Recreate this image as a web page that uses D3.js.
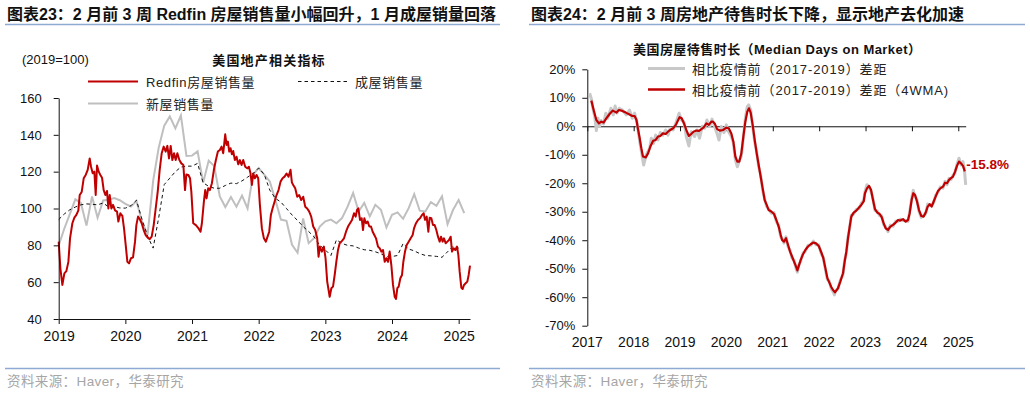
<!DOCTYPE html>
<html>
<head>
<meta charset="utf-8">
<script src="https://cdn.jsdelivr.net/npm/d3@7"></script>
<style>
  body { margin: 0; background: #fff; }
  svg text { font-family: "Liberation Sans", Arial, "Noto Sans CJK SC", sans-serif; }
</style>
</head>
<body>
<svg id="chart" width="1030" height="393"></svg>
<script>
// ---------- left chart data (2019=100) ----------
const leftYearTicks = [2019, 2020, 2021, 2022, 2023, 2024, 2025];
const leftValueTicks = [40, 60, 80, 100, 120, 140, 160];

// Redfin weekly home sales, [decimal year, index]
const redfinSales = [
  [2019.0,82],[2019.025,67.5],[2019.055,58.5],[2019.085,64.8],[2019.115,66],[2019.145,71],[2019.17,83.8],[2019.205,92],
  [2019.235,95],[2019.265,96.5],[2019.295,99],[2019.315,107.3],[2019.345,109],[2019.375,116.4],[2019.405,118.2],[2019.435,121],
  [2019.465,127.2],[2019.485,122.7],[2019.51,119.1],[2019.535,120],[2019.555,107.3],[2019.575,123.3],[2019.6,120],[2019.625,118.2],
  [2019.65,116.7],[2019.675,110],[2019.7,107.3],[2019.725,109.5],[2019.745,100],[2019.765,107.3],[2019.79,100],[2019.815,102],
  [2019.845,99],[2019.875,98.3],[2019.895,92.9],[2019.925,97.4],[2019.955,96],[2019.98,89.2],[2020.005,80.2],[2020.03,71.1],
  [2020.055,70.2],[2020.085,73],[2020.115,73.5],[2020.145,82],[2020.165,91],[2020.19,95.6],[2020.215,94.3],[2020.245,92],
  [2020.275,88.3],[2020.305,85.6],[2020.335,84.2],[2020.365,83.4],[2020.395,84.7],[2020.425,91],[2020.455,100],[2020.485,109],
  [2020.515,121],[2020.545,130],[2020.575,133.6],[2020.605,130.9],[2020.63,134],[2020.655,127.2],[2020.68,134],[2020.705,126.3],
  [2020.73,130],[2020.755,126.3],[2020.78,130],[2020.81,126.3],[2020.84,124.5],[2020.87,123.6],[2020.895,110],[2020.915,118.5],
  [2020.945,118.2],[2020.97,116.4],[2020.99,109],[2021.018,92],[2021.058,91],[2021.098,89.2],[2021.128,87.4],[2021.148,92],
  [2021.178,103.7],[2021.198,110],[2021.218,105.5],[2021.243,111],[2021.268,110],[2021.298,113.7],[2021.328,121],[2021.358,126.3],
  [2021.388,130.9],[2021.418,131.8],[2021.443,133.6],[2021.468,130],[2021.498,140.3],[2021.518,134.5],[2021.538,136.3],[2021.558,130.9],
  [2021.578,132.7],[2021.598,129.4],[2021.618,131.2],[2021.643,126.3],[2021.668,128.1],[2021.693,124],[2021.718,126.3],[2021.743,123.6],
  [2021.768,126.3],[2021.798,122.7],[2021.828,121.8],[2021.853,122.7],[2021.878,119],[2021.898,112.8],[2021.918,119],[2021.943,116.4],
  [2021.968,118.2],[2021.993,116.4],[2022.018,102],[2022.048,89.2],[2022.078,83.8],[2022.108,82],[2022.133,84.7],[2022.158,87.4],
  [2022.183,96.5],[2022.208,100],[2022.238,103.7],[2022.268,107.3],[2022.298,110],[2022.328,114.6],[2022.358,116.4],[2022.388,117.3],
  [2022.418,119],[2022.448,117.3],[2022.478,121],[2022.498,114.2],[2022.518,112.8],[2022.548,111],[2022.578,106.4],[2022.608,107.3],
  [2022.638,104.6],[2022.668,106.4],[2022.698,101],[2022.728,100],[2022.758,98.3],[2022.788,95.6],[2022.818,90.2],[2022.848,88.3],
  [2022.878,83.8],[2022.898,73.8],[2022.918,79.3],[2022.948,76.6],[2022.978,79.3],[2023.003,73],[2023.028,60.3],[2023.065,52.1],
  [2023.09,56.7],[2023.115,57.6],[2023.14,63.9],[2023.165,71.1],[2023.19,77.5],[2023.215,81.1],[2023.25,82.4],[2023.28,83.8],
  [2023.31,87.4],[2023.34,90.2],[2023.37,92],[2023.4,93.8],[2023.43,97.4],[2023.455,95.6],[2023.475,99.2],[2023.495,100.1],
  [2023.52,93.8],[2023.545,94.7],[2023.565,88.3],[2023.585,94.7],[2023.61,92],[2023.635,92.9],[2023.66,90.2],[2023.685,90.2],
  [2023.71,87.4],[2023.735,85.6],[2023.76,83.8],[2023.79,79.3],[2023.815,78.4],[2023.84,76.6],[2023.865,77.5],[2023.89,71.1],
  [2023.915,73],[2023.94,71.1],[2023.965,76.6],[2023.99,69.3],[2024.015,58.5],[2024.04,52.1],[2024.06,50.9],[2024.08,56.7],
  [2024.1,57.6],[2024.125,62.1],[2024.15,63.9],[2024.17,71.1],[2024.195,76.6],[2024.22,80.2],[2024.25,82],[2024.28,83.8],
  [2024.31,85.6],[2024.33,89.2],[2024.36,92],[2024.39,93.8],[2024.42,94.7],[2024.45,96.5],[2024.475,97.4],[2024.495,93.8],
  [2024.52,95.6],[2024.545,87.4],[2024.565,95],[2024.59,94.7],[2024.615,91],[2024.64,91],[2024.665,88.3],[2024.69,84.7],
  [2024.715,82],[2024.735,84.7],[2024.76,82],[2024.78,83.8],[2024.805,81.1],[2024.83,82],[2024.855,82.9],[2024.88,84.7],
  [2024.9,76.6],[2024.925,78.4],[2024.95,77.5],[2024.975,79.3],[2024.995,74.8],[2025.015,65.7],[2025.04,57],[2025.06,56.3],
  [2025.08,58.5],[2025.105,59.4],[2025.13,60.3],[2025.15,63.9],[2025.17,69]
];

// existing home sales, monthly from 2019 (first point at 2019.0)
const existingSales = [
  94, 97, 99.3, 100.8, 102, 102.5, 102.3, 102, 103, 100.8, 101, 100.3,
  100.2, 101.5, 104.5, 94, 85, 78.5, 95, 113, 116.5, 120, 122.5, 123,
  123, 124.5, 114, 112, 111, 111, 112.5, 113.8, 113.5, 115, 117, 119,
  122, 118.5, 110, 105.5, 103.5, 100, 96.5, 93.5, 90.2, 87.5, 84.5, 80,
  77.5, 74.5, 83, 81, 80, 79.7, 78.5, 77.6, 77.3, 76.5, 75.4, 74,
  73.9, 74.5, 81, 78, 77, 75.5, 74.5, 74.3, 74, 73.5, 76.5, 79.5,
  78.5
];

// new home sales, monthly from 2019 (first point at 2019.0)
const newSales = [
  80, 89, 97, 105, 103, 90.7, 106.5, 95, 104.4, 104.8, 105.7, 104.5,
  102.5, 101.1, 104, 93, 85.7, 115, 133, 145, 150, 143.5, 150.5, 128.5,
  128.7, 131, 114, 126, 123, 106.6, 100.8, 106.2, 101, 107, 100, 118.4,
  122, 118.4, 114.7, 104.8, 94, 93.3, 80.3, 76, 94.6, 81.2, 84, 90.2,
  93, 94, 92, 94.8, 101, 108.4, 98.4, 103, 95.7, 102, 99.3, 89.7,
  96.6, 97.9, 94.4, 100.2, 107.8, 98.8, 98.4, 103.5, 101.5, 106.6, 91.5, 99.3,
  104.6, 97.5
];

// ---------- right chart data (% gap vs 2017-2019) ----------
const rightYearTicks = [2017, 2018, 2019, 2020, 2021, 2022, 2023, 2024, 2025];
const rightValueTicks = [-70, -60, -50, -40, -30, -20, -10, 0, 10, 20];

const daysGapRaw = [
  [2017.05,11.6],[2017.09,9.5],[2017.125,6],[2017.16,3.4],[2017.195,-1.5],[2017.23,2.8],[2017.265,0],[2017.3,2],
  [2017.35,0.8],[2017.4,4.6],[2017.44,2.8],[2017.51,6.3],[2017.56,4],[2017.6,7.1],[2017.64,4.6],[2017.69,6.3],
  [2017.76,5.7],[2017.84,4],[2017.91,5.7],[2017.97,2.8],[2018.02,4.6],[2018.07,1.5],[2018.13,-5.4],[2018.185,-10.6],
  [2018.215,-13.6],[2018.27,-10.1],[2018.345,-7.7],[2018.38,-4.2],[2018.43,-6],[2018.475,-3.1],[2018.525,-4.8],[2018.575,-2.2],
  [2018.63,-3.1],[2018.69,-1.3],[2018.74,-3.1],[2018.79,-0.7],[2018.85,-1.3],[2018.92,1.6],[2018.98,4.6],[2019.03,2.2],
  [2019.085,1.6],[2019.135,-3.6],[2019.19,-6.9],[2019.24,-1.9],[2019.315,-3.6],[2019.365,-1.3],[2019.42,-4.2],[2019.48,0],
  [2019.53,-0.7],[2019.58,2.2],[2019.64,-0.1],[2019.69,2.5],[2019.747,-0.1],[2019.797,-2.5],[2019.84,-4.8],[2019.89,-0.1],
  [2019.948,-2.2],[2019.998,0.5],[2020.048,-1.9],[2020.106,-3.6],[2020.15,-5.8],[2020.192,-11.7],[2020.236,-14.2],[2020.286,-11.7],
  [2020.322,-10.5],[2020.365,-4.2],[2020.408,2.8],[2020.45,6.9],[2020.48,7.5],[2020.523,5.8],[2020.566,0],[2020.61,-5.5],
  [2020.653,-9],[2020.696,-14.2],[2020.739,-17.2],[2020.782,-22.5],[2020.825,-25.5],[2020.868,-28.2],[2020.911,-29],[2020.968,-30.5],
  [2021.026,-30.3],[2021.077,-33.5],[2021.127,-34.8],[2021.17,-38.8],[2021.2,-39.4],[2021.242,-41],[2021.285,-38.8],[2021.328,-42.2],
  [2021.372,-43.5],[2021.415,-46.3],[2021.458,-47],[2021.5,-49.8],[2021.53,-51.2],[2021.558,-48.8],[2021.602,-47.3],[2021.652,-44.5],
  [2021.702,-43.9],[2021.76,-41.8],[2021.817,-41.8],[2021.875,-40.3],[2021.932,-41.6],[2021.99,-41.6],[2022.047,-44.9],[2022.09,-46],
  [2022.134,-50.3],[2022.177,-53.8],[2022.22,-54.4],[2022.263,-57.2],[2022.306,-58.2],[2022.33,-59.2],[2022.356,-57.6],[2022.406,-57.2],
  [2022.456,-54],[2022.514,-52.1],[2022.55,-47],[2022.586,-44.6],[2022.622,-38.8],[2022.658,-35.8],[2022.693,-31.2],[2022.744,-30.8],
  [2022.801,-29.2],[2022.859,-29],[2022.909,-27],[2022.96,-26],[2022.988,-23],[2023.031,-20.5],[2023.074,-21.4],[2023.118,-22.8],
  [2023.16,-25.3],[2023.204,-29.6],[2023.254,-29.8],[2023.305,-31.4],[2023.348,-31.4],[2023.39,-34.5],[2023.434,-35.3],[2023.484,-37],
  [2023.535,-34.7],[2023.592,-35.1],[2023.65,-33.3],[2023.7,-33.4],[2023.75,-32.6],[2023.808,-33.1],[2023.865,-33],[2023.916,-33.4],
  [2023.952,-30],[2023.995,-25.3],[2024.03,-22.5],[2024.067,-24.6],[2024.11,-25.9],[2024.153,-29.9],[2024.203,-32],[2024.254,-31.2],
  [2024.297,-30.8],[2024.34,-27.3],[2024.383,-27.8],[2024.426,-27.6],[2024.469,-26.9],[2024.512,-24.2],[2024.563,-23.2],[2024.613,-21.3],
  [2024.67,-21.7],[2024.714,-19.3],[2024.757,-20.5],[2024.8,-18.3],[2024.843,-18.7],[2024.886,-17.2],[2024.93,-16.4],[2024.972,-13.4],
  [2025.015,-11.2],[2025.059,-13.6],[2025.1,-12.4],[2025.13,-14.8],[2025.16,-20.6]
];

const daysGap4wma = [
  [2017.087,9],[2017.137,5.7],[2017.195,2.2],[2017.25,1],[2017.3,1.6],[2017.35,1.3],[2017.41,2.8],[2017.48,4.3],
  [2017.55,5.5],[2017.63,4.8],[2017.68,5.7],[2017.755,5.4],[2017.83,4.8],[2017.9,4.2],[2017.97,3.6],[2018.02,3.6],
  [2018.06,2.2],[2018.09,-0.7],[2018.13,-4.2],[2018.165,-7.7],[2018.2,-10.6],[2018.26,-10.9],[2018.31,-9.5],[2018.36,-7.1],
  [2018.42,-5.1],[2018.475,-4.8],[2018.525,-3.6],[2018.575,-3.4],[2018.63,-2.5],[2018.69,-2.7],[2018.74,-1.9],[2018.79,-1.3],
  [2018.85,-0.7],[2018.91,0.5],[2018.96,2.2],[2018.99,3.2],[2019.035,2.8],[2019.085,1],[2019.135,-1.3],[2019.19,-3.4],
  [2019.24,-2.7],[2019.29,-1.9],[2019.35,-1.5],[2019.41,-1.6],[2019.46,-1],[2019.51,-0.4],[2019.57,1],[2019.62,0.5],
  [2019.675,1.6],[2019.71,1.6],[2019.747,1],[2019.8,-1],[2019.855,-1.5],[2019.927,-1.3],[2019.998,-0.5],[2020.05,-0.7],
  [2020.106,-2.5],[2020.15,-5.4],[2020.192,-10.6],[2020.236,-12.4],[2020.278,-12.4],[2020.322,-9.5],[2020.365,-3.6],[2020.408,1.6],
  [2020.45,5.1],[2020.487,6.3],[2020.523,4.8],[2020.566,0.5],[2020.61,-4.8],[2020.653,-9.5],[2020.696,-13.6],[2020.739,-17.7],
  [2020.782,-21.8],[2020.825,-25.9],[2020.868,-27.6],[2020.911,-29.4],[2020.968,-29.9],[2021.026,-30.8],[2021.077,-32.9],[2021.127,-35.2],
  [2021.17,-38.1],[2021.2,-39.9],[2021.242,-40.5],[2021.285,-39.3],[2021.328,-41.6],[2021.372,-44],[2021.415,-45.7],[2021.458,-47.5],
  [2021.5,-49.2],[2021.53,-50.6],[2021.558,-49.2],[2021.602,-46.9],[2021.652,-44.9],[2021.702,-43.4],[2021.76,-42.2],[2021.817,-41.4],
  [2021.875,-40.8],[2021.932,-41.1],[2021.99,-42],[2022.047,-44.3],[2022.09,-46.3],[2022.134,-49.8],[2022.177,-53.3],[2022.22,-54.9],
  [2022.263,-56.5],[2022.306,-57.6],[2022.34,-58.3],[2022.38,-57.4],[2022.406,-56.8],[2022.456,-54.5],[2022.514,-51.6],[2022.55,-47.5],
  [2022.586,-44],[2022.622,-39.3],[2022.658,-35.2],[2022.693,-31.7],[2022.744,-30.3],[2022.801,-29.6],[2022.859,-28.5],[2022.909,-27.6],
  [2022.96,-26.4],[2022.988,-23.5],[2023.031,-21.8],[2023.074,-20.9],[2023.118,-22.3],[2023.16,-25.8],[2023.204,-29.1],[2023.254,-30.3],
  [2023.305,-30.8],[2023.348,-31.9],[2023.39,-34],[2023.434,-35.8],[2023.484,-36.4],[2023.535,-35.2],[2023.592,-34.6],[2023.65,-33.8],
  [2023.7,-32.9],[2023.75,-33.1],[2023.808,-32.6],[2023.865,-33.5],[2023.916,-32.9],[2023.952,-30.5],[2023.995,-25.8],[2024.03,-23.5],
  [2024.067,-24.1],[2024.11,-26.4],[2024.153,-29.4],[2024.203,-31.5],[2024.254,-31.7],[2024.297,-30.3],[2024.34,-28.2],[2024.383,-27.3],
  [2024.426,-28.2],[2024.469,-26.4],[2024.512,-24.7],[2024.563,-22.7],[2024.613,-21.8],[2024.67,-21.2],[2024.714,-19.8],[2024.757,-20],
  [2024.8,-18.8],[2024.843,-18.2],[2024.886,-17.7],[2024.93,-15.9],[2024.972,-13.9],[2025.015,-12.4],[2025.059,-13],[2025.102,-13.9],
  [2025.14,-15.8]
];
const lastGapLabel = "-15.8%";

// ---------- drawing ----------
const RED = "#c00000";
const BLUE_RULE = "#8eaad4";
const svg = d3.select("#chart");

function monthly(values) {
  return values.map((v, i) => [2019 + i / 12, v]);
}

// headers / footers
function frame(x0, x1, title) {
  svg.append("text").attr("x", x0 + 2).attr("y", 20)
    .attr("font-size", 16).attr("font-weight", "bold").attr("fill", "#111").text(title);
  svg.append("line").attr("x1", x0).attr("x2", x1).attr("y1", 24.5).attr("y2", 24.5)
    .attr("stroke", BLUE_RULE).attr("stroke-width", 1.5);
  svg.append("line").attr("x1", x0).attr("x2", x1).attr("y1", 368.5).attr("y2", 368.5)
    .attr("stroke", BLUE_RULE).attr("stroke-width", 1.5);
  svg.append("text").attr("x", x0 + 2).attr("y", 386).attr("letter-spacing", 0.4)
    .attr("font-size", 13.5).attr("fill", "#a6a6a6").text("资料来源：Haver，华泰研究");
}
frame(5, 500, "图表23：2 月前 3 周 Redfin 房屋销售量小幅回升，1 月成屋销量回落");
frame(529, 1025, "图表24：2 月前 3 周房地产待售时长下降，显示地产去化加速");

// ===== left chart =====
const xL = d3.scaleLinear().domain([2019, 2025.17]).range([58.7, 470]);
const yL = d3.scaleLinear().domain([40, 160]).range([319, 98]);
const gL = svg.append("g");

gL.append("text").attr("x", 22).attr("y", 63.5).attr("font-size", 13).attr("fill", "#111").text("(2019=100)");
gL.append("text").attr("x", 269).attr("y", 65).attr("text-anchor", "middle").attr("letter-spacing", 1.2)
  .attr("font-size", 13).attr("font-weight", "bold").attr("fill", "#111").text("美国地产相关指标");

const lineL = d3.line().x(d => xL(d[0])).y(d => yL(d[1]));

gL.append("path").datum(monthly(newSales)).attr("d", lineL)
  .attr("fill", "none").attr("stroke", "#bfbfbf").attr("stroke-width", 2);
gL.append("path").datum(monthly(existingSales)).attr("d", lineL)
  .attr("fill", "none").attr("stroke", "#111").attr("stroke-width", 1).attr("stroke-dasharray", "3.5,3");
gL.append("path").datum(redfinSales).attr("d", lineL)
  .attr("fill", "none").attr("stroke", RED).attr("stroke-width", 2).attr("stroke-linejoin", "round");

const axL = gL.append("g").attr("transform", `translate(${xL.range()[0]},0)`)
  .call(d3.axisLeft(yL).tickValues(leftValueTicks).tickSize(5).tickSizeOuter(0).tickPadding(12));
const axB = gL.append("g").attr("transform", `translate(0,${yL(40)})`)
  .call(d3.axisBottom(xL).tickValues(leftYearTicks).tickFormat(d3.format("d")).tickSize(5).tickSizeOuter(0).tickPadding(7));
[axL, axB].forEach(a => {
  a.selectAll("path,line").attr("stroke", "#111");
  a.selectAll("text").attr("fill", "#111").style("font-family", null);
});
axL.selectAll("text").attr("font-size", 13);
axB.selectAll("text").attr("font-size", 14);

// legend
const legL = gL.append("g").attr("font-size", 13).attr("fill", "#222").attr("letter-spacing", 0.6);
legL.append("line").attr("x1", 88).attr("x2", 138).attr("y1", 81.5).attr("y2", 81.5).attr("stroke", RED).attr("stroke-width", 2);
legL.append("text").attr("x", 146).attr("y", 86.5).text("Redfin房屋销售量");
legL.append("line").attr("x1", 298).attr("x2", 348).attr("y1", 81.5).attr("y2", 81.5)
  .attr("stroke", "#111").attr("stroke-width", 1).attr("stroke-dasharray", "3.5,3");
legL.append("text").attr("x", 355).attr("y", 86.5).text("成屋销售量");
legL.append("line").attr("x1", 88).attr("x2", 138).attr("y1", 103.5).attr("y2", 103.5).attr("stroke", "#bfbfbf").attr("stroke-width", 2);
legL.append("text").attr("x", 146).attr("y", 109).text("新屋销售量");

// ===== right chart =====
const xR = d3.scaleLinear().domain([2017, 2025.16]).range([587.3, 965.7]);
const yR = d3.scaleLinear().domain([-70, 20]).range([325.7, 69.3]);
const gR = svg.append("g");

gR.append("text").attr("x", 633).attr("y", 53.5).attr("font-size", 13).attr("font-weight", "bold").attr("letter-spacing", 0.45)
  .attr("fill", "#111").text("美国房屋待售时长（Median Days on Market）");

const lineR = d3.line().x(d => xR(d[0])).y(d => yR(d[1]));

const axR = gR.append("g").attr("transform", `translate(${xR.range()[0]},0)`)
  .call(d3.axisLeft(yR).tickValues(rightValueTicks).tickFormat(d => d + "%").tickSize(5).tickSizeOuter(0).tickPadding(7));
const axZ = gR.append("g").attr("transform", `translate(0,${yR(0)})`)
  .call(d3.axisBottom(xR).tickValues(rightYearTicks).tickFormat("").tickSize(5).tickSizeOuter(0));
[axR, axZ].forEach(a => {
  a.selectAll("path,line").attr("stroke", "#111");
  a.selectAll("text").attr("fill", "#111").attr("font-size", 13).style("font-family", null);
});

gR.append("path").datum(daysGapRaw).attr("d", lineR)
  .attr("fill", "none").attr("stroke", "#c8c8c8").attr("stroke-width", 3).attr("stroke-linejoin", "round");
gR.append("path").datum(daysGap4wma).attr("d", lineR)
  .attr("fill", "none").attr("stroke", RED).attr("stroke-width", 2.2).attr("stroke-linejoin", "round");

gR.append("g").selectAll("text").data(rightYearTicks).join("text")
  .attr("x", d => xR(d)).attr("y", 347.3).attr("text-anchor", "middle")
  .attr("font-size", 14).attr("fill", "#111").text(d => d);

const lastPt = daysGap4wma[daysGap4wma.length - 1];
gR.append("text").attr("x", xR(lastPt[0]) + 1.5).attr("y", yR(lastPt[1]) - 2)
  .attr("font-size", 13.5).attr("font-weight", "bold").attr("fill", RED).text(lastGapLabel);

// legend
const legR = gR.append("g").attr("font-size", 13).attr("fill", "#222").attr("letter-spacing", 0.9);
legR.append("line").attr("x1", 648).attr("x2", 685).attr("y1", 68.5).attr("y2", 68.5).attr("stroke", "#c8c8c8").attr("stroke-width", 3);
legR.append("text").attr("x", 692).attr("y", 73.5).text("相比疫情前（2017-2019）差距");
legR.append("line").attr("x1", 648).attr("x2", 685).attr("y1", 89.5).attr("y2", 89.5).attr("stroke", RED).attr("stroke-width", 2.5);
legR.append("text").attr("x", 692).attr("y", 95).text("相比疫情前（2017-2019）差距（4WMA)");
</script>
</body>
</html>
